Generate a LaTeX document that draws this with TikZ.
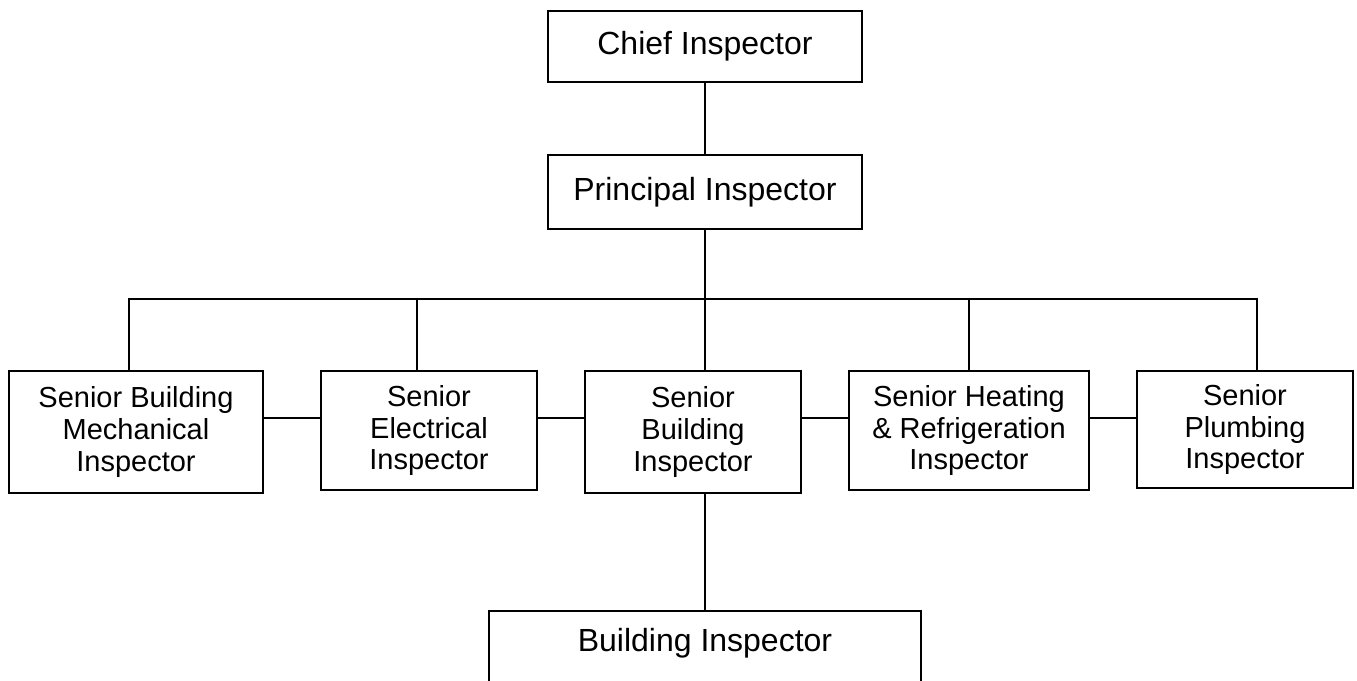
\documentclass[tikz,border=0pt]{standalone}
\usepackage{fontspec}
\setmainfont{Liberation Sans}
\usetikzlibrary{calc}

\tikzset{
 post/.style={draw=black, line width=1pt, inner sep=0pt, outer sep=0pt, align=center},
 toppost/.style={post, font=\fontsize{16}{18}\selectfont, minimum width=157pt},
 rowpost/.style={post, font=\fontsize{14.5}{15.85}\selectfont},
 wire/.style={black, line width=1pt}
}

\begin{document}
\begin{tikzpicture}[x=0.5pt, y=-0.5pt]
\useasboundingbox (0,0) rectangle (1357,681);
\clip (0,0) rectangle (1357,681);

\node[toppost, minimum height=35.5pt] (chief) at (705,46.5) {Chief Inspector};
\node[toppost, minimum height=37pt] (principal) at (705,192) {Principal Inspector};

\node[rowpost, minimum width=127pt, minimum height=61pt] (sbm) at (136,432) {Senior Building\\Mechanical\\Inspector};
\node[rowpost, minimum width=108pt, minimum height=59.5pt] (se) at (429,430.5) {Senior\\Electrical\\Inspector};
\node[rowpost, minimum width=108pt, minimum height=61pt] (sb) at (693,432) {Senior\\Building\\Inspector};
\node[rowpost, minimum width=120pt, minimum height=59.5pt] (shr) at (969,430.5) {Senior Heating\\\& Refrigeration\\Inspector};
\node[rowpost, minimum width=108pt, minimum height=58.5pt] (sp) at (1245,429.5) {Senior\\Plumbing\\Inspector};

\node[toppost, draw=none, minimum width=216pt, minimum height=32pt] (bi) at (705,643) {Building Inspector};
\draw[wire] (bi.south west) ++(0,10) |- (bi.north east) -- ++(0,80);

\coordinate (b1) at (129,299);
\coordinate (b2) at (417,299);
\coordinate (b3) at (705,299);
\coordinate (b4) at (969,299);
\coordinate (b5) at (1257,299);
\coordinate (link) at (0,418);

\draw[wire] (chief) -- (principal);
\draw[wire] (principal) -- (b3);
\draw[wire] (b1 |- sbm.north) -- (b1) -- (b5) -- (b5 |- sp.north);
\foreach \b/\n in {b2/se, b3/sb, b4/shr} {
 \draw[wire] (\b) -- (\b |- \n.north);
}
\foreach \l/\r in {sbm/se, se/sb, sb/shr, shr/sp} {
 \draw[wire] (\l.east |- link) -- (\r.west |- link);
}
\draw[wire] (b3 |- sb.south) -- (b3 |- bi.north);
\end{tikzpicture}
\end{document}
